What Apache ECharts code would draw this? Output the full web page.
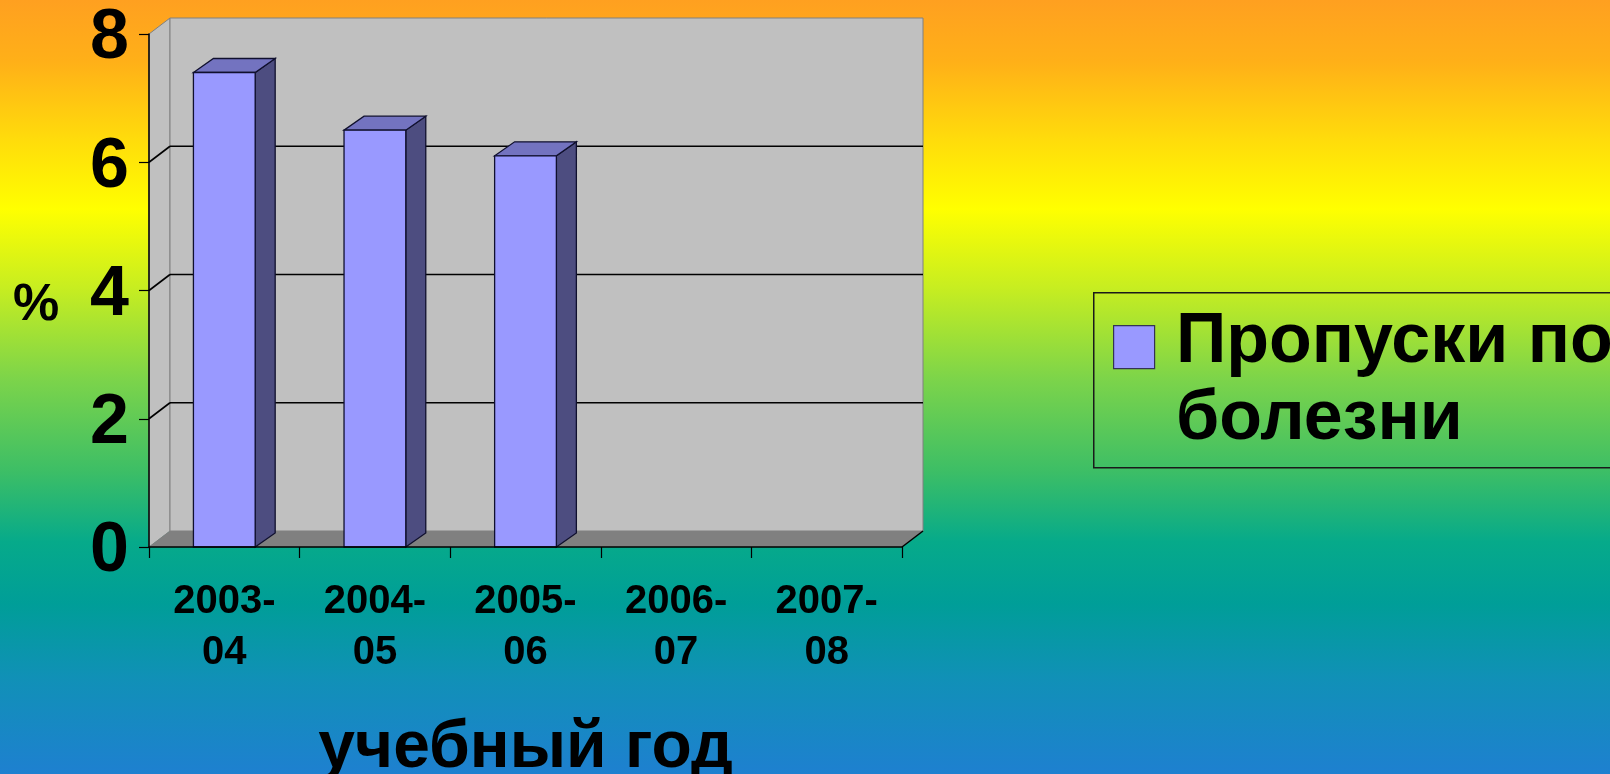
<!DOCTYPE html>
<html>
<head>
<meta charset="utf-8">
<style>
html,body{margin:0;padding:0;width:1610px;height:774px;overflow:hidden;}
#chart{width:1610px;height:774px;}
</style>
<script src="https://cdn.jsdelivr.net/npm/echarts@6/dist/echarts.min.js"></script>
</head>
<body>
<div id="chart"></div>
<script>
const categories = ['2003-04', '2004-05', '2005-06', '2006-07', '2007-08'];
const seriesName = 'Пропуски по болезни';
const values = [7.4, 6.5, 6.1, null, null];
const yTicks = [0, 2, 4, 6, 8];
const xAxisTitle = 'учебный год';
const yAxisTitle = '%';
const legendLines = ['Пропуски по', 'болезни'];

const FONT = '"Liberation Sans", Arial, sans-serif';
const DX = 21, DY = -16;      // wall depth
const BDX = 20, BDY = -14;    // bar depth

const chart = echarts.init(document.getElementById('chart'), null, {renderer: 'canvas'});

function wallsRender(params, api) {
  const cs = params.coordSys;
  const x0 = cs.x, x1 = cs.x + cs.width, yt = cs.y, yb = cs.y + cs.height;
  const ch = [];
  ch.push({type: 'polygon', shape: {points: [[x0, yb], [x0, yt], [x0 + DX, yt + DY], [x0 + DX, yb + DY]]},
    style: {fill: '#C0C0C0', stroke: '#808080', lineWidth: 1}});
  ch.push({type: 'rect', shape: {x: x0 + DX, y: yt + DY, width: cs.width, height: cs.height},
    style: {fill: '#C0C0C0', stroke: '#808080', lineWidth: 1}});
  ch.push({type: 'polygon', shape: {points: [[x0, yb], [x1, yb], [x1 + DX, yb + DY], [x0 + DX, yb + DY]]},
    style: {fill: '#808080', stroke: null}});
  ch.push({type: 'line', shape: {x1: x1, y1: yb, x2: x1 + DX, y2: yb + DY}, style: {stroke: '#000', lineWidth: 1.5}});
  yTicks.forEach(function (v) {
    if (v === yTicks[0] || v === yTicks[yTicks.length - 1]) return;
    const y = api.coord([0, v])[1];
    ch.push({type: 'line', shape: {x1: x0 + DX, y1: y + DY, x2: x1 + DX, y2: y + DY}, style: {stroke: '#000', lineWidth: 1.6}});
    ch.push({type: 'line', shape: {x1: x0, y1: y, x2: x0 + DX, y2: y + DY}, style: {stroke: '#000', lineWidth: 1.6}});
  });
  return {type: 'group', children: ch};
}

function barRender(params, api) {
  const v = api.value(1);
  if (v == null || isNaN(v)) return null;
  const top = api.coord([api.value(0), v]);
  const base = api.coord([api.value(0), 0]);
  const bw = api.size([1, 0])[0] * 0.41;
  const l = top[0] - bw / 2, r = top[0] + bw / 2, yt = top[1], yb = base[1];
  const stroke = '#10102e';
  return {type: 'group', children: [
    {type: 'polygon', shape: {points: [[r, yt], [r + BDX, yt + BDY], [r + BDX, yb + BDY], [r, yb]]},
      style: {fill: '#4D4D80', stroke: stroke, lineWidth: 1.3}},
    {type: 'polygon', shape: {points: [[l, yt], [r, yt], [r + BDX, yt + BDY], [l + BDX, yt + BDY]]},
      style: {fill: '#7373C0', stroke: stroke, lineWidth: 1.3}},
    {type: 'rect', shape: {x: l, y: yt, width: bw, height: yb - yt},
      style: {fill: '#9999FF', stroke: stroke, lineWidth: 1.3}}
  ]};
}

const option = {
  backgroundColor: {
    type: 'linear', x: 0, y: 0, x2: 0, y2: 1,
    colorStops: [
      {offset: 0.00, color: '#FFA020'},
      {offset: 0.08, color: '#FFB018'},
      {offset: 0.19, color: '#FFE00A'},
      {offset: 0.27, color: '#FFFF00'},
      {offset: 0.37, color: '#C8EE20'},
      {offset: 0.49, color: '#7CD44A'},
      {offset: 0.61, color: '#3CBE66'},
      {offset: 0.70, color: '#06AA8A'},
      {offset: 0.78, color: '#009E98'},
      {offset: 0.88, color: '#1190B8'},
      {offset: 1.00, color: '#1E80D0'}
    ]
  },
  animation: false,
  grid: {left: 149, top: 34, right: 708, bottom: 227, containLabel: false, outerBoundsMode: 'none'},
  xAxis: {
    type: 'category',
    data: categories,
    z: 5,
    boundaryGap: true,
    axisLine: {show: true, lineStyle: {color: '#000', width: 1.5}},
    axisTick: {show: true, length: 11, alignWithLabel: false, lineStyle: {color: '#000', width: 1.2}},
    axisLabel: {
      show: true, interval: 0, margin: 29, color: '#000',
      fontFamily: FONT, fontWeight: 'bold', fontSize: 40, lineHeight: 51,
      formatter: function (s) { return s.replace('-', '-\n'); }
    },
    splitLine: {show: false},
    name: xAxisTitle,
    nameLocation: 'middle',
    nameGap: 202,
    nameTextStyle: {color: '#000', fontFamily: FONT, fontWeight: 'bold', fontSize: 66, verticalAlign: 'middle'}
  },
  yAxis: {
    type: 'value',
    min: 0, max: 8, interval: 2,
    z: 5,
    axisLine: {show: true, lineStyle: {color: '#000', width: 1.5}},
    axisTick: {show: true, length: 10, lineStyle: {color: '#000', width: 1.2}},
    axisLabel: {show: true, margin: 20, color: '#000', fontFamily: FONT, fontWeight: 'bold', fontSize: 70,
      verticalAlign: 'top', lineHeight: 10},
    splitLine: {show: false},
    name: yAxisTitle,
    nameLocation: 'middle',
    nameRotate: 0,
    nameGap: 113,
    nameTextStyle: {color: '#000', fontFamily: FONT, fontWeight: 'bold', fontSize: 52, align: 'center', verticalAlign: 'top', lineHeight: 30}
  },
  series: [
    {
      type: 'custom', name: 'walls', silent: true, z: 1, clip: false,
      renderItem: wallsRender,
      data: [[0, 0]]
    },
    {
      type: 'custom', name: seriesName, z: 3, clip: false,
      renderItem: barRender,
      data: values.map(function (v, i) { return [i, v == null ? '-' : v]; })
    }
  ],
  graphic: [
    {type: 'rect', left: 1093, top: 292, z: 10,
      shape: {width: 600, height: 175},
      style: {fill: 'transparent', stroke: '#1a1a1a', lineWidth: 1.5}},
    {type: 'rect', left: 1113, top: 325, z: 10,
      shape: {width: 41, height: 43},
      style: {fill: '#9999FF', stroke: '#333355', lineWidth: 1.2}},
    {type: 'text', x: 1176, y: 343, z: 10,
      style: {text: legendLines[0], fill: '#000', font: 'bold 70px ' + FONT, verticalAlign: 'middle', align: 'left'}},
    {type: 'text', x: 1176, y: 420, z: 10,
      style: {text: legendLines[1], fill: '#000', font: 'bold 70px ' + FONT, verticalAlign: 'middle', align: 'left'}}
  ]
};
chart.setOption(option);
</script>
</body>
</html>
